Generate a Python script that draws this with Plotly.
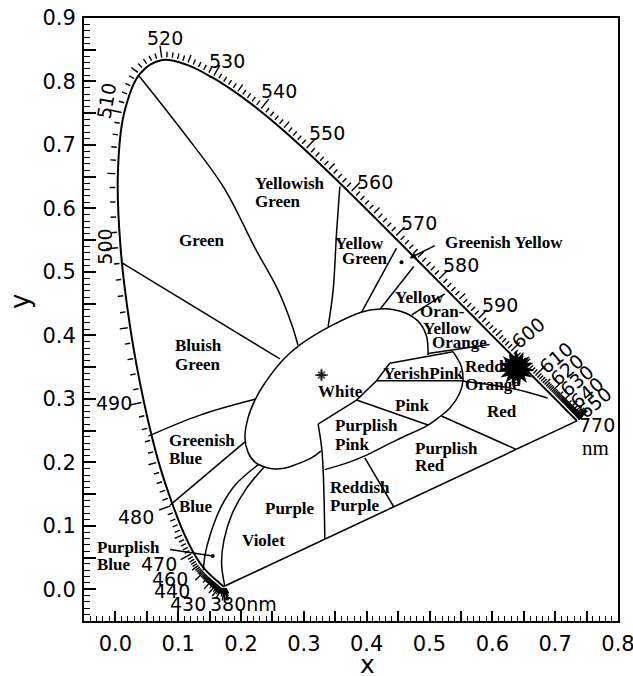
import numpy as np
import plotly.graph_objects as go

# CIE 1931 2-degree spectral locus, 5 nm steps
wavelength = list(range(380, 701, 5))
locus_x = [0.1741, 0.1740, 0.1738, 0.1736, 0.1733, 0.1730, 0.1726, 0.1721, 0.1714, 0.1703,
           0.1689, 0.1669, 0.1644, 0.1611, 0.1566, 0.1510, 0.1440, 0.1355, 0.1241, 0.1096,
           0.0913, 0.0687, 0.0454, 0.0235, 0.0082, 0.0039, 0.0139, 0.0389, 0.0743, 0.1142,
           0.1547, 0.1929, 0.2296, 0.2658, 0.3016, 0.3373, 0.3731, 0.4087, 0.4441, 0.4788,
           0.5125, 0.5448, 0.5752, 0.6029, 0.6270, 0.6482, 0.6658, 0.6801, 0.6915, 0.7006,
           0.7079, 0.7140, 0.7190, 0.7230, 0.7260, 0.7283, 0.7300, 0.7311, 0.7320, 0.7327,
           0.7334, 0.7340, 0.7344, 0.7346, 0.7347]
locus_y = [0.0050, 0.0050, 0.0049, 0.0049, 0.0048, 0.0048, 0.0048, 0.0048, 0.0051, 0.0058,
           0.0069, 0.0086, 0.0109, 0.0138, 0.0177, 0.0227, 0.0297, 0.0399, 0.0578, 0.0868,
           0.1327, 0.2007, 0.2950, 0.4127, 0.5384, 0.6548, 0.7502, 0.8120, 0.8338, 0.8262,
           0.8059, 0.7816, 0.7543, 0.7243, 0.6923, 0.6589, 0.6245, 0.5896, 0.5547, 0.5202,
           0.4866, 0.4544, 0.4242, 0.3965, 0.3725, 0.3514, 0.3340, 0.3197, 0.3083, 0.2993,
           0.2920, 0.2859, 0.2809, 0.2770, 0.2740, 0.2717, 0.2700, 0.2689, 0.2680, 0.2673,
           0.2666, 0.2660, 0.2656, 0.2654, 0.2653]

# Kelly colour-name region boundaries (x list, y list)
green_yellowishgreen = ([0.0361, 0.1076, 0.1728, 0.2221, 0.2587, 0.2809, 0.2905],
                        [0.8107, 0.7208, 0.6325, 0.5379, 0.4716, 0.4164, 0.3849])
green_bluishgreen = ([0.0086, 0.2618], [0.5153, 0.3628])
yellowishgreen_yellowgreen = ([0.3572, 0.3520, 0.3466, 0.3386], [0.6345, 0.5615, 0.4716, 0.4137])
yellowgreen_greenishyellow = ([0.4474, 0.3917], [0.5374, 0.4361])
greenishyellow_yellow = ([0.4749, 0.4224], [0.5084, 0.4427])
yellow_orangeyellow = ([0.5242, 0.4717], [0.4653, 0.4322])
orangeyellow_orange = ([0.5957, 0.4976], [0.3856, 0.3714])
reddishorange_red = ([0.5512, 0.6302, 0.6879], [0.3281, 0.3166, 0.3013])
yellowishpink_top = ([0.4367, 0.5374], [0.3560, 0.3743])
yellowishpink_bottom = ([0.4156, 0.5533], [0.3285, 0.3285])
white_purplishpink = ([0.3227, 0.3838, 0.4156, 0.4367], [0.2603, 0.2981, 0.3285, 0.3560])
pink_purplishpink = ([0.3838, 0.4976], [0.2981, 0.2587])
pink_outer = ([0.5374, 0.5507, 0.5533, 0.5480, 0.5321, 0.5162, 0.4976, 0.4474, 0.3997, 0.3679, 0.3334],
              [0.3743, 0.3506, 0.3297, 0.3087, 0.2850, 0.2718, 0.2587, 0.2350, 0.2114, 0.1987, 0.1885])
purple_purplishpink = ([0.3227, 0.3281, 0.3307, 0.3334], [0.2603, 0.2244, 0.1877, 0.0790])
purplishred_red = ([0.5189, 0.6380], [0.2729, 0.2204])
reddishpurple_purplishred = ([0.3970, 0.4430], [0.2069, 0.1300])
bluishgreen_greenishblue = ([0.0525, 0.1347, 0.2221], [0.2413, 0.2744, 0.2992])
greenishblue_blue = ([0.0870, 0.2062], [0.1325, 0.2323])
blue_violet = ([0.2285, 0.1903, 0.1680, 0.1506, 0.1426, 0.1400],
               [0.1972, 0.1640, 0.1293, 0.0852, 0.0536, 0.0300])
violet_purple = ([0.2364, 0.2078, 0.1855, 0.1728, 0.1690, locus_x[0]],
                 [0.1924, 0.1577, 0.1183, 0.0773, 0.0410, locus_y[0]])
white_region = ([0.4976, 0.4955, 0.4844, 0.4638, 0.4415, 0.4208, 0.3922, 0.3461, 0.2936, 0.2666,
                 0.2380, 0.2221, 0.2110, 0.2062, 0.2110, 0.2221, 0.2412, 0.2650, 0.2889, 0.3127, 0.3270],
                [0.3691, 0.3975, 0.4196, 0.4345, 0.4409, 0.4416, 0.4369, 0.4164, 0.3849, 0.3612,
                 0.3249, 0.2981, 0.2697, 0.2382, 0.2161, 0.2003, 0.1916, 0.1901, 0.1972, 0.2074, 0.2177])

curved = [green_yellowishgreen, yellowishgreen_yellowgreen, pink_outer, purple_purplishpink,
          bluishgreen_greenishblue, blue_violet, violet_purple, white_region, reddishorange_red]
straight = [green_bluishgreen, yellowgreen_greenishyellow, greenishyellow_yellow, yellow_orangeyellow,
            orangeyellow_orange, yellowishpink_top, yellowishpink_bottom, white_purplishpink,
            pink_purplishpink, purplishred_red, reddishpurple_purplishred, greenishblue_blue]

# region names: (text, x, y, anchor)
region_labels = [
    ("Green", 0.1386, 0.5489, "center"),
    ("Yellowish", 0.2184, 0.6388, "left"), ("Green", 0.2184, 0.6109, "left"),
    ("Yellow", 0.3889, 0.5453, "center"), ("Green", 0.3970, 0.5216, "center"),
    ("Greenish Yellow", 0.5213, 0.5465, "left"),
    ("Yellow", 0.4420, 0.4598, "left"),
    ("Oran-", 0.4812, 0.4377, "left"), ("Yellow", 0.4865, 0.4101, "left"),
    ("Orange", 0.5010, 0.3880, "left"),
    ("YerishPink", 0.4235, 0.3399, "left"),
    ("Reddish", 0.5533, 0.3506, "left"), ("Orange", 0.5533, 0.3233, "left"),
    ("White", 0.3588, 0.3112, "center"),
    ("Pink", 0.4733, 0.2902, "center"),
    ("Red", 0.6156, 0.2797, "center"),
    ("Purplish", 0.3466, 0.2574, "left"), ("Pink", 0.3466, 0.2284, "left"),
    ("Purplish", 0.4738, 0.2219, "left"), ("Red", 0.4738, 0.1956, "left"),
    ("Reddish", 0.3386, 0.1601, "left"), ("Purple", 0.3386, 0.1325, "left"),
    ("Purple", 0.2777, 0.1273, "center"),
    ("Violet", 0.2353, 0.0773, "center"),
    ("Blue", 0.1283, 0.1309, "center"),
    ("Greenish", 0.0817, 0.2338, "left"), ("Blue", 0.0817, 0.2061, "left"),
    ("Bluish", 0.0922, 0.3836, "left"), ("Green", 0.0922, 0.3546, "left"),
    ("Purplish", -0.0323, 0.0655, "left"), ("Blue", -0.0323, 0.0391, "left"),
]

# wavelength labels: (text, x, y, angle)
wavelength_labels = [
    ("380nm", 0.2034, -0.0229, 0), ("430", 0.1148, -0.0229, 0), ("440", 0.0897, -0.0024, 0),
    ("460", 0.0870, 0.0158, 0), ("470", 0.0695, 0.0402, 0), ("480", 0.0329, 0.1140, 0),
    ("490", -0.0021, 0.2929, 0), ("500", -0.0180, 0.5399, -90), ("510", -0.0148, 0.7697, -80),
    ("520", 0.0790, 0.8686, 0), ("530", 0.1771, 0.8328, 0), ("540", 0.2603, 0.7855, 0),
    ("550", 0.3374, 0.7188, 0), ("560", 0.4129, 0.6420, 0), ("570", 0.4828, 0.5768, 0),
    ("580", 0.5496, 0.5110, 0), ("590", 0.6116, 0.4479, 0), ("600", 0.6561, 0.4038, -40),
    ("610", 0.7006, 0.3644, -40), ("620", 0.7181, 0.3454, -40), ("630", 0.7340, 0.3281, -40),
    ("640", 0.7499, 0.3091, -40), ("650", 0.7626, 0.2934, -40), ("770", 0.7666, 0.2587, 0),
]

# marked chromaticity points
sample_point = (0.638, 0.348)
white_point = (0.328, 0.3375)
greenish_yellow_point = (0.4554, 0.5153)
purplish_blue_point = (0.1549, 0.0525)

X_RANGE = [-0.05, 0.8]
Y_RANGE = [-0.05, 0.9]
ML, MR, MT, MB = 84, 15, 18, 55
W, H = 633, 676
sx = (W - ML - MR) / (X_RANGE[1] - X_RANGE[0])
sy = (H - MT - MB) / (Y_RANGE[1] - Y_RANGE[0])

fig = go.Figure()


def add_line(xs, ys, width=1.5, shape="linear"):
    fig.add_trace(go.Scatter(x=list(xs), y=list(ys), mode="lines",
                             line=dict(color="black", width=width, shape=shape),
                             hoverinfo="skip", showlegend=False))


# spectral locus and purple line
add_line(locus_x, locus_y, width=2, shape="spline")
add_line([locus_x[0], locus_x[-1]], [locus_y[0], locus_y[-1]], width=1.6)

for bx, by in curved:
    add_line(bx, by, shape="spline")
for bx, by in straight:
    add_line(bx, by)


# wavelength scale: a tick every nm outside the locus
def catmull_rom(px, py, steps):
    pts = np.column_stack([px, py])
    P = np.vstack([pts[0], pts, pts[-1]])
    out = []
    for i in range(1, len(P) - 2):
        p0, p1, p2, p3 = P[i - 1], P[i], P[i + 1], P[i + 2]
        for t in np.linspace(0, 1, steps, endpoint=False):
            t2, t3 = t * t, t * t * t
            out.append(0.5 * (2 * p1 + (-p0 + p2) * t + (2 * p0 - 5 * p1 + 4 * p2 - p3) * t2
                              + (-p0 + 3 * p1 - 3 * p2 + p3) * t3))
    out.append(pts[-1])
    return np.array(out)


pix = catmull_rom(np.array(locus_x) * sx, np.array(locus_y) * sy, 5)
nm = np.arange(wavelength[0], wavelength[-1] + 1)
n = len(pix)
tx_list, ty_list = [], []
for i in range(n):
    a, b = pix[max(i - 2, 0)], pix[min(i + 2, n - 1)]
    t = b - a
    t = t / (np.hypot(*t) + 1e-12)
    nrm = np.array([-t[1], t[0]])
    w = nm[i]
    if w % 10 == 0:
        length = 12
    elif w % 5 == 0:
        length = 8
    else:
        length = 5.5
    g = 2.5
    p_in = pix[i] + nrm * g
    p_out = pix[i] + nrm * (g + length)
    tx_list += [p_in[0] / sx, p_out[0] / sx, None]
    ty_list += [p_in[1] / sy, p_out[1] / sy, None]
fig.add_trace(go.Scatter(x=tx_list, y=ty_list, mode="lines",
                         line=dict(color="black", width=1.4),
                         hoverinfo="skip", showlegend=False))

# pointer from the Purplish Blue label
add_line([0.087, purplish_blue_point[0]], [0.0626, purplish_blue_point[1]], width=1.5)

# points
fig.add_trace(go.Scatter(x=[greenish_yellow_point[0], purplish_blue_point[0]],
                         y=[greenish_yellow_point[1], purplish_blue_point[1]],
                         mode="markers", marker=dict(color="black", size=4),
                         hoverinfo="skip", showlegend=False))
for ang in (0, 24, 48):
    fig.add_trace(go.Scatter(x=[sample_point[0]], y=[sample_point[1]], mode="markers",
                             marker=dict(symbol="star", size=26, color="black", angle=ang,
                                         line=dict(width=0)),
                             hoverinfo="skip", showlegend=False))
fig.add_trace(go.Scatter(x=[white_point[0], white_point[0]], y=[white_point[1], white_point[1]],
                         mode="markers",
                         marker=dict(symbol=["asterisk-open", "cross-thin-open"], size=[8, 9],
                                     color="black", line=dict(width=1.8, color="black")),
                         hoverinfo="skip", showlegend=False))

annotations = []
serif = dict(family="Liberation Serif", size=17, color="black", weight="bold")
sans = dict(family="DejaVu Sans", size=19, color="black")
for text, x, y, anchor in region_labels:
    annotations.append(dict(x=x, y=y, xref="x", yref="y", text=text, showarrow=False,
                            xanchor=anchor, yanchor="middle", font=serif))
for text, x, y, ang in wavelength_labels:
    annotations.append(dict(x=x, y=y, xref="x", yref="y", text=text, showarrow=False,
                            xanchor="center", yanchor="middle", textangle=ang, font=sans))
annotations.append(dict(x=0.7642, y=0.2224, xref="x", yref="y", text="nm", showarrow=False,
                        xanchor="center", yanchor="middle",
                        font=dict(family="Liberation Serif", size=21, color="black")))
# arrow to the Greenish Yellow point
annotations.append(dict(x=0.4683, y=0.5216, ax=0.5109, ay=0.5426, xref="x", yref="y",
                        axref="x", ayref="y", text="", showarrow=True, arrowhead=2,
                        arrowsize=0.8, arrowwidth=1.6, arrowcolor="black"))
# axis titles
annotations.append(dict(x=(367 - ML) / (W - ML - MR), y=(H - MB - 664) / (H - MT - MB),
                        xref="paper", yref="paper",
                        text="x", showarrow=False, xanchor="center", yanchor="middle",
                        font=dict(family="DejaVu Sans", size=25, color="black")))
annotations.append(dict(x=(20 - ML) / (W - ML - MR), y=(H - MB - 302) / (H - MT - MB),
                        xref="paper", yref="paper", text="y",
                        showarrow=False, xanchor="center", yanchor="middle", textangle=-90,
                        font=dict(family="DejaVu Sans", size=26, color="black")))

x_ticks = [round(v, 2) for v in np.arange(-0.05, 0.801, 0.05)]
x_text = [f"{v:.1f}" if abs(round(v * 10) - v * 10) < 1e-6 else "" for v in x_ticks]
y_ticks = [round(v, 2) for v in np.arange(-0.05, 0.901, 0.05)]
y_text = [f"{v:.1f}" if abs(round(v * 10) - v * 10) < 1e-6 else "" for v in y_ticks]

axis_common = dict(showgrid=False, zeroline=False, showline=True, linecolor="black", linewidth=2,
                   mirror=True, ticks="inside", tickcolor="black", tickwidth=1.5,
                   ticklabeloverflow="allow", automargin=False,
                   tickfont=dict(family="DejaVu Sans", size=21, color="black"))
fig.update_xaxes(range=X_RANGE, tickmode="array", tickvals=x_ticks, ticktext=x_text, ticklen=10,
                 ticklabelstandoff=3,
                 minor=dict(tickmode="linear", tick0=0, dtick=0.01, ticks="inside", ticklen=5,
                            tickcolor="black", tickwidth=1.2),
                 **axis_common)
fig.update_yaxes(range=Y_RANGE, tickmode="array", tickvals=y_ticks, ticktext=y_text, ticklen=12,
                 ticklabelstandoff=2,
                 minor=dict(tickmode="linear", tick0=0, dtick=0.01, ticks="inside", ticklen=6,
                            tickcolor="black", tickwidth=1.2),
                 **axis_common)
fig.update_layout(width=W, height=H, margin=dict(l=ML, r=MR, t=MT, b=MB, autoexpand=False),
                  paper_bgcolor="white", plot_bgcolor="white", annotations=annotations,
                  showlegend=False)
fig.write_html("out.html")
